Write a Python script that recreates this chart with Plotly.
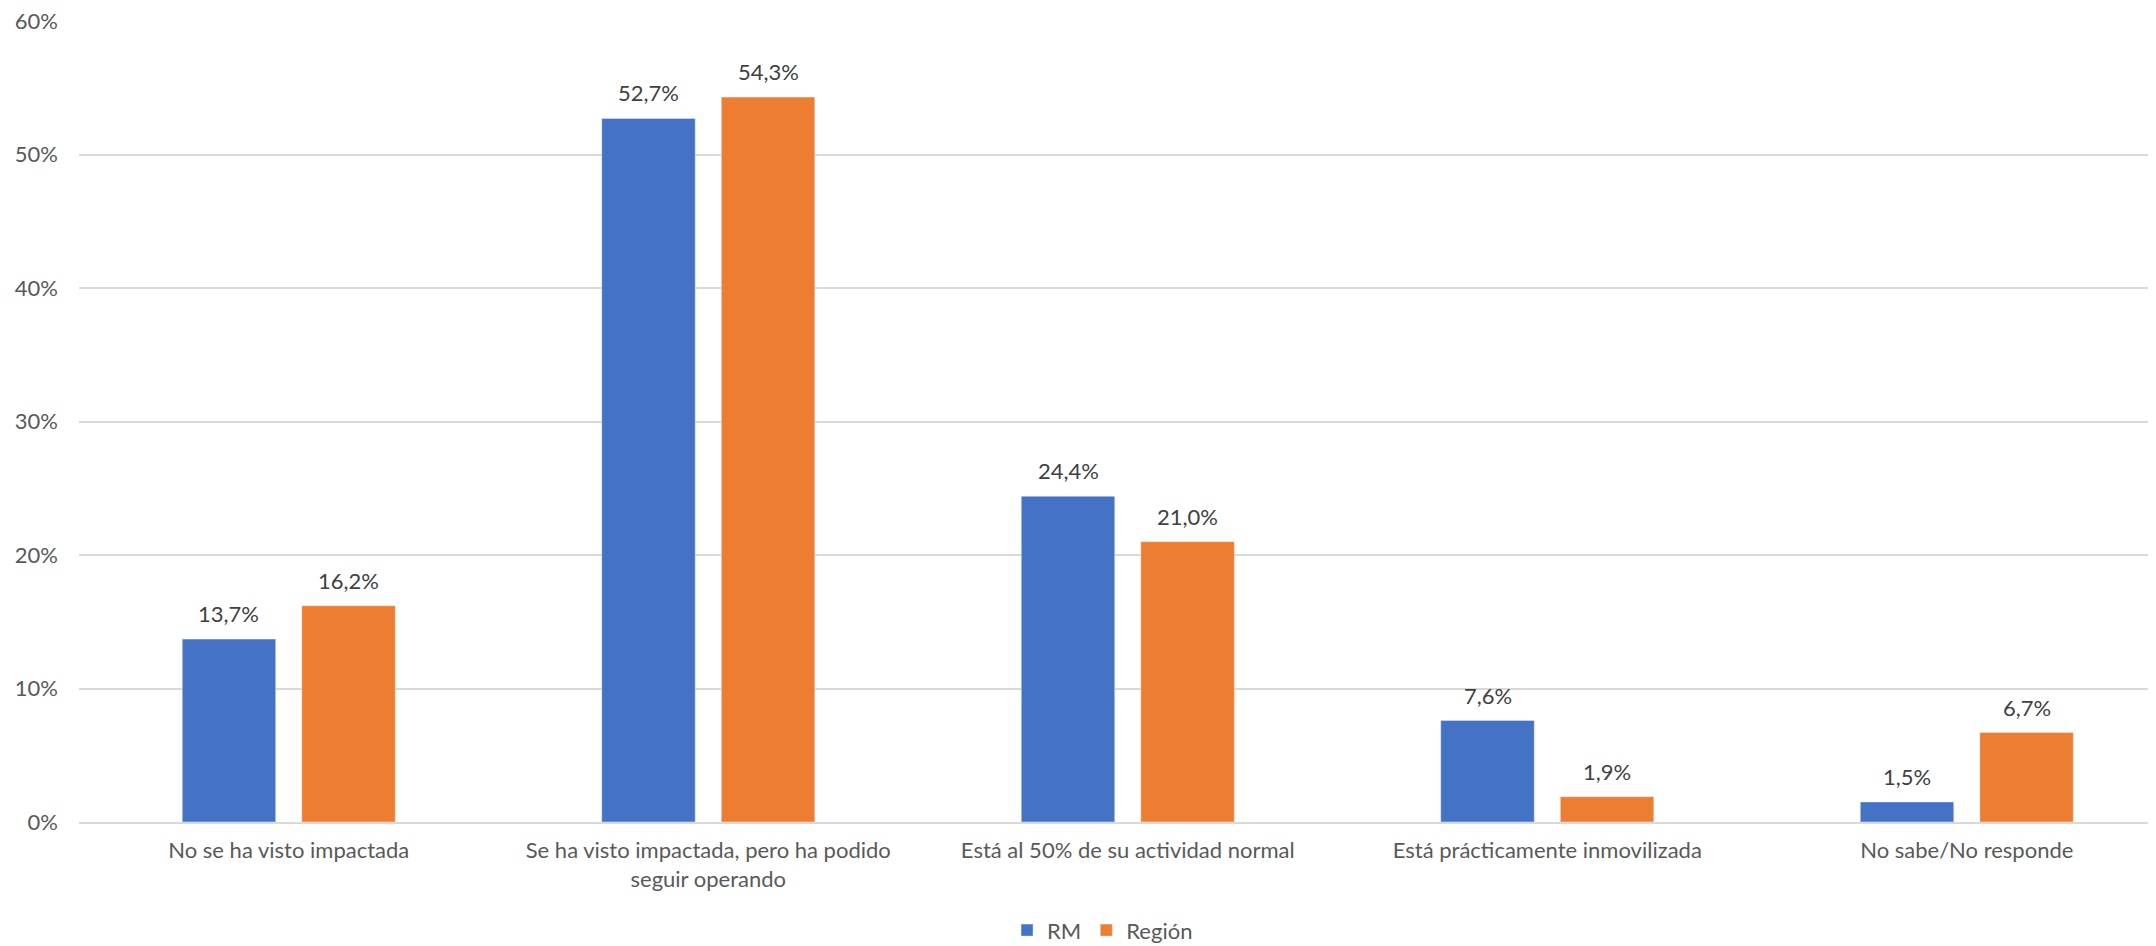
import plotly.graph_objects as go

categories = [
    "No se ha visto impactada",
    "Se ha visto impactada, pero ha podido<br>seguir operando",
    "Está al 50% de su actividad normal",
    "Está prácticamente inmovilizada",
    "No sabe/No responde",
]
rm_values = [13.7, 52.7, 24.4, 7.6, 1.5]
region_values = [16.2, 54.3, 21.0, 1.9, 6.7]
y_ticks = [0, 10, 20, 30, 40, 50, 60]

FONT = "Lato, 'Open Sans', sans-serif"
GRAY = "#595959"
LABEL = "#404040"
BARGAP = 0.43
GROUPW = 1 - BARGAP

fig = go.Figure()
fig.add_trace(go.Bar(name="RM", x=categories, y=rm_values, marker_color="#4472C4"))
fig.add_trace(go.Bar(name="Región", x=categories, y=region_values, marker_color="#ED7D31"))

annotations = []
for series, off in ((rm_values, -GROUPW / 4), (region_values, GROUPW / 4)):
    for i, v in enumerate(series):
        annotations.append(dict(
            x=i + off, y=v, xref="x", yref="y", text=f"{v:.1f}%".replace(".", ","),
            showarrow=False, yanchor="bottom", yshift=10,
            font=dict(size=22, color=LABEL, family=FONT),
        ))

fig.update_layout(
    width=2148, height=938,
    separators=",.",
    barmode="group", bargap=BARGAP, bargroupgap=0.218,
    plot_bgcolor="white", paper_bgcolor="white",
    margin=dict(l=71, r=0, t=13, b=124, autoexpand=False),
    font=dict(family=FONT, size=22, color=GRAY),
    annotations=annotations,
    legend=dict(orientation="h", x=0.4928, xanchor="center", y=-0.109, yanchor="top",
                font=dict(size=22, color=GRAY), traceorder="normal"),
    xaxis=dict(range=[-0.5, 4.451], showgrid=False, showline=True,
               linecolor="#D9D9D9", linewidth=1.5, tickfont=dict(size=22, color=GRAY),
               ticks="", ticklabelstandoff=8),
    yaxis=dict(range=[0, 60.0001], tickmode="array", tickvals=y_ticks,
               ticktext=[f"{t}%" for t in y_ticks], showgrid=True,
               gridcolor="#D9D9D9", gridwidth=1.5, zeroline=False,
               ticklabeloverflow="allow",
               tickfont=dict(size=22, color=GRAY), ticklabelstandoff=20),
)

fig.write_html("out.html")
